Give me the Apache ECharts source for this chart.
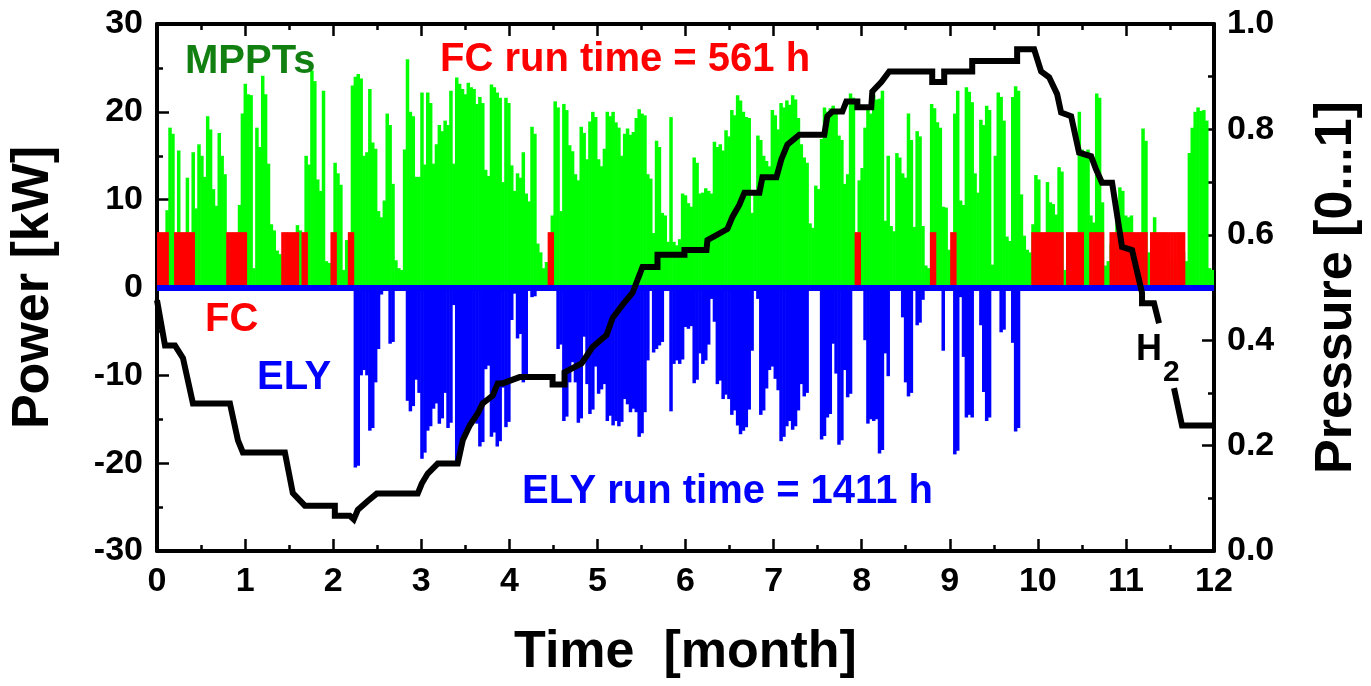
<!DOCTYPE html>
<html>
<head>
<meta charset="utf-8">
<title>Power and hydrogen pressure over one year</title>
<script src="https://cdn.jsdelivr.net/npm/echarts@6/dist/echarts.min.js"></script>
<style>
  html, body { margin: 0; padding: 0; background: #fff; }
  #chart { width: 1371px; height: 686px; }
</style>
</head>
<body>
<div id="chart"></div>
<script>
// Daily peak power of the PV trackers (kW), day 0 .. 364
const mpptPower = [
  3, 4, 5, 8.8, 18.2, 17.5, 4, 15.6, 6, 5,
  12.5, 4, 15.4, 9, 16.3, 15, 12.6, 19.5, 18, 11.2,
  9.3, 17.6, 15, 12.9, 4, 3, 5, 6, 9.4, 19.8,
  23.2, 22, 21.9, 2.2, 18.2, 16, 24.1, 22, 14.1, 7.2,
  6.5, 4.2, 3.8, 2, 3, 1, 2, 3, 7.1, 6.5,
  5, 15, 14, 24.7, 23.5, 12.3, 11, 22.4, 3.0, 2.8,
  2, 14.2, 13, 11.7, 2, 5.4, 5, 23, 24, 24.3,
  23.8, 15, 15.4, 22.6, 16.5, 15.8, 8.7, 8, 9.9, 19.8,
  18.5, 11.8, 3.1, 2.2, 2, 15.7, 26, 20, 19.5, 12.6,
  12.6, 22.2, 14, 22.2, 21, 14.1, 16.3, 18.5, 17.8, 19,
  18.5, 22.4, 14.1, 23.9, 23.2, 22.6, 22, 23.3, 22.8, 22.6,
  20.9, 21.7, 21, 13.4, 12.7, 23.1, 22.8, 22.2, 21.6, 12,
  21.6, 21, 13.9, 11, 13, 12.5, 15.4, 10.7, 9.8, 18.3,
  17.5, 5, 4, 2.2, 2.9, 2, 8.2, 21.2, 20.5, 8.7,
  20.9, 20.2, 16.2, 15.5, 12.9, 12.2, 18.3, 17.6, 14.6, 18.9,
  20, 19.4, 14.6, 13.8, 15.8, 20, 19.5, 20, 18.8, 18.2,
  15, 17.5, 18.1, 17.4, 17.7, 19.3, 20.3, 19.8, 19.6, 12.9,
  12.4, 6.2, 16.7, 16, 8.5, 8.2, 5.2, 19.4, 5.2, 4.8,
  5.5, 10.7, 10.5, 9.6, 9.2, 14.8, 14.2, 10.7, 10.8, 11.3,
  11, 10.7, 16.6, 16, 16.3, 15.6, 17.9, 17.2, 20.2, 19.6,
  21.9, 21.3, 20, 19.4, 19.3, 8.5, 11, 17.3, 16.8, 15,
  14.4, 13.8, 20.2, 19.6, 18, 21, 20.5, 21.3, 20.8, 21.9,
  21.4, 19.3, 16.3, 14.8, 14.2, 7.3, 6.8, 11.6, 11.2, 16.9,
  20.5, 20, 20.4, 20.7, 20.2, 17.3, 16.8, 11.8, 12.9, 22.1,
  21.6, 2.4, 12.2, 13.6, 18.2, 20.3, 19.8, 21.9, 21.4, 21.5,
  22.4, 7.6, 15, 7, 6.4, 15.3, 14.8, 13, 12.5, 19.8,
  16.8, 6.9, 17.8, 17.2, 7, 2.5, 2.2, 20.9, 20.4, 18.8,
  18.2, 9.2, 9.1, 4.3, 4.3, 19.8, 22.4, 9.9, 9.4, 22.8,
  22.3, 21.1, 13, 10.8, 19.1, 18.5, 20.7, 20.2, 2.6, 15,
  22.2, 21.7, 19, 5.8, 5.3, 21.7, 22.9, 22.4, 10.6, 5.9,
  4.3, 4, 7.2, 12.8, 12.3, 5, 5, 12, 9.7, 9.5,
  8.3, 13.7, 13.2, 2, 5, 4, 3, 5, 20, 15.7,
  15.2, 15.7, 8.2, 7.4, 22.1, 21.6, 9.7, 2.5, 3, 5,
  4, 8.2, 11.4, 11, 8.2, 8, 8.2, 5, 5, 4.6,
  18.1, 16.7, 4, 3.6, 8, 5, 4, 3, 3, 2.5,
  3, 3, 2.8, 3, 4, 3, 15.3, 18.2, 20, 20.5,
  20.1, 20.2, 19, 2.2, 2
];

// Fuel cell output (kW) on the days it runs, day 0 .. 364
const fcPower = [
  6.3, 6.3, 6.3, 6.3, 0, 0, 6.3, 6.3, 6.3, 6.3,
  6.3, 6.3, 6.3, 0, 0, 0, 0, 0, 0, 0,
  0, 0, 0, 0, 6.3, 6.3, 6.3, 6.3, 6.3, 6.3,
  6.3, 0, 0, 0, 0, 0, 0, 0, 0, 0,
  0, 0, 0, 6.3, 6.3, 6.3, 6.3, 6.3, 6.3, 0,
  6.3, 6.3, 0, 0, 0, 0, 0, 0, 0, 0,
  6.3, 6.3, 0, 0, 0, 0, 6.3, 6.3, 0, 0,
  0, 0, 0, 0, 0, 0, 0, 0, 0, 0,
  0, 0, 0, 0, 0, 0, 0, 0, 0, 0,
  0, 0, 0, 0, 0, 0, 0, 0, 0, 0,
  0, 0, 0, 0, 0, 0, 0, 0, 0, 0,
  0, 0, 0, 0, 0, 0, 0, 0, 0, 0,
  0, 0, 0, 0, 0, 0, 0, 0, 0, 0,
  0, 0, 0, 0, 0, 6.3, 6.3, 0, 0, 0,
  0, 0, 0, 0, 0, 0, 0, 0, 0, 0,
  0, 0, 0, 0, 0, 0, 0, 0, 0, 0,
  0, 0, 0, 0, 0, 0, 0, 0, 0, 0,
  0, 0, 0, 0, 0, 0, 0, 0, 0, 0,
  0, 0, 0, 0, 0, 0, 0, 0, 0, 0,
  0, 0, 0, 0, 0, 0, 0, 0, 0, 0,
  0, 0, 0, 0, 0, 0, 0, 0, 0, 0,
  0, 0, 0, 0, 0, 0, 0, 0, 0, 0,
  0, 0, 0, 0, 0, 0, 0, 0, 0, 0,
  0, 0, 0, 0, 0, 0, 0, 0, 0, 0,
  0, 6.3, 6.3, 0, 0, 0, 0, 0, 0, 0,
  0, 0, 0, 0, 0, 0, 0, 0, 0, 0,
  0, 0, 0, 0, 0, 0, 0, 6.3, 6.3, 0,
  0, 0, 0, 0, 6.3, 6.3, 0, 0, 0, 0,
  0, 0, 0, 0, 0, 0, 0, 0, 0, 0,
  0, 0, 0, 0, 0, 0, 0, 0, 0, 0,
  0, 0, 6.3, 6.3, 6.3, 6.3, 6.3, 6.3, 6.3, 6.3,
  6.3, 6.3, 6.3, 0, 6.3, 6.3, 6.3, 6.3, 6.3, 6.3,
  0, 0, 6.3, 6.3, 6.3, 6.3, 6.3, 0, 0, 6.3,
  6.3, 6.3, 6.3, 6.3, 6.3, 6.3, 6.3, 6.3, 6.3, 6.3,
  6.3, 6.3, 0, 6.3, 6.3, 6.3, 6.3, 6.3, 6.3, 6.3,
  6.3, 6.3, 6.3, 6.3, 6.3, 0, 0, 0, 0, 0,
  0, 0, 0, 0, 0
];

// Electrolyser load (kW, drawn downward), day 0 .. 364
const elyPower = [
  0, 0, 0, 0, 0, 0, 0, 0, 0, 0,
  0, 0, 0, 0, 0, 0, 0, 0, 0, 0,
  0, 0, 0, 0, 0, 0, 0, 0, 0, 0,
  0, 0, 0, 0, 0, 0, 0, 0, 0, 0,
  0, 0, 0, 0, 0, 0, 0, 0, 0, 0,
  0, 0, 0, 0, 0, 0, 0, 0, 0, 0,
  0, 0, 0, 0, 0, 0, 0, 0, -20.5, -20.3,
  -10, -9.4, -10, -16.3, -16, -10.8, -7, -0.8, 0, 0,
  -6.4, -6.2, 0, 0, 0, 0, -12.9, -14.1, -13.5, -10.5,
  -12, -19.5, -18.8, -16.3, -15.8, -13.8, -13.2, -15.5, -14.9, -12,
  -16, -15.4, -2, -20.1, -19.4, -17.8, -16.7, -16.2, -15.5, -14.8,
  -15.5, -18.1, -17.6, -9.3, -8.9, -17, -16.5, -18.1, -17.5, -11.4,
  -15.9, -15.3, -3.7, -0.7, -5.8, -5.3, -10.8, -10.2, 0, -1.1,
  -1, 0, 0, 0, 0, 0, 0, 0, -7, -6.5,
  -15.2, -14.7, -10.8, -8.5, -10.8, -15.4, -14.9, -5.6, -11, -14.4,
  -13.9, -9, -12.1, -11.6, -11, -15.2, -14.6, -15.7, -15.2, -15.8,
  -15.3, -12.7, -13.3, -14.2, -13.8, -14.2, -17, -16.6, -14.2, -8.3,
  0, -7.4, -7, -6.6, -6.2, 0, 0, -14.1, -8.7, -8.3,
  -8.7, -8.2, -4.5, -4.7, -4.4, -10.9, -10.5, -7.5, -8.7, -8.3,
  -6.5, -1.3, -3.9, -11, -10.6, -12.7, -12.2, -12.7, -14.5, -14,
  -15.7, -16.7, -16.3, -15.9, -13.9, -7.2, 0, -1.3, -14.5, -14,
  -11.5, -9.4, -9, -10.4, -11.7, -17.5, -17, -15.8, -15.2, -16.2,
  -15.8, -14, -11, -12.4, -12, 0, 0, 0, 0, -17.3,
  -16.9, -14.8, -14.4, -6.4, -9.8, -17.9, -17.4, -9.4, -12.5, -12.1,
  0, 0, 0, 0, -6, -15.5, -15, -15.2, -15, -18.9,
  -18.5, -7.5, -10.1, 0, 0, 0, 0, -3.4, -10.8, -12.4,
  -12, 0, -4.3, -4, -1.4, 0, 0, 0, 0, 0,
  0, -7.2, 0, 0, 0, -19, -18.6, -1.1, -7.9, -14.8,
  -14.5, -14.8, 0, 0, -4.3, -11.9, -15.2, -14.8, 0, 0,
  0, -5.1, -4.8, 0, 0, -6.3, -16.4, -16, 0, 0,
  0, 0, 0, 0, 0, 0, 0, 0, 0, 0,
  0, 0, 0, 0, 0, 0, 0, 0, 0, 0,
  0, 0, 0, 0, 0, 0, 0, 0, 0, 0,
  0, 0, 0, 0, 0, 0, 0, 0, 0, 0,
  0, 0, 0, 0, 0, 0, 0, 0, 0, 0,
  0, 0, 0, 0, 0, 0, 0, 0, 0, 0,
  0, 0, 0, 0, 0
];

// Hydrogen tank pressure: time in months and relative pressure; '-' breaks the line at the label
const h2Months = [
  0.000, 0.091, 0.204, 0.295, 0.408, 0.828, 0.919, 0.975, 1.452, 1.542,
  1.679, 2.019, 2.019, 2.189, 2.234, 2.280, 2.393, 2.495, 2.960, 3.006,
  3.074, 3.187, 3.414, 3.471, 3.550, 3.641, 3.697, 3.811, 3.868, 3.924,
  4.117, 4.491, 4.491, 4.627, 4.627, 4.820, 4.945, 5.104, 5.172, 5.285,
  5.399, 5.512, 5.682, 5.682, 5.988, 5.988, 6.238, 6.249, 6.476, 6.533,
  6.612, 6.669, 6.839, 6.873, 7.032, 7.088, 7.157, 7.293, 7.576, 7.610,
  7.667, 7.781, 7.826, 7.951, 7.951, 8.109, 8.121, 8.223, 8.313, 8.801,
  8.801, 8.937, 8.937, 9.255, 9.255, 9.765, 9.765, 9.958, 10.037, 10.128,
  10.219, 10.264, 10.378, 10.468, 10.605, 10.661, 10.729, 10.843, 10.956, 11.070,
  11.183, 11.183, 11.319, 11.376, 11.460, 11.546, 11.637, 12.000
];
const h2Pressure = [
  0.476, 0.390, 0.390, 0.366, 0.280, 0.280, 0.210, 0.187, 0.187, 0.110,
  0.086, 0.086, 0.067, 0.067, 0.060, 0.078, 0.095, 0.109, 0.109, 0.128,
  0.147, 0.166, 0.166, 0.210, 0.238, 0.261, 0.280, 0.295, 0.318, 0.318,
  0.330, 0.330, 0.316, 0.316, 0.339, 0.356, 0.387, 0.410, 0.442, 0.467,
  0.490, 0.539, 0.539, 0.562, 0.562, 0.571, 0.571, 0.590, 0.611, 0.634,
  0.657, 0.680, 0.680, 0.709, 0.709, 0.743, 0.771, 0.790, 0.790, 0.825,
  0.834, 0.834, 0.853, 0.853, 0.842, 0.842, 0.872, 0.890, 0.910, 0.910,
  0.890, 0.890, 0.910, 0.910, 0.930, 0.930, 0.952, 0.952, 0.910, 0.899,
  0.867, 0.832, 0.825, 0.756, 0.749, 0.724, 0.699, 0.699, 0.577, 0.571,
  0.490, 0.470, 0.470, 0.432, '-', 0.309, 0.238, 0.238
];

const days = mpptPower.map((_, i) => i);
const h2Series = h2Months.map((m, i) => [m, h2Pressure[i]]);

const FONT = '"Liberation Sans", Arial, sans-serif';
const TICK_FONT = 34;
const TITLE_FONT = 52;
const NOTE_FONT = 40;
// Day bars are drawn a little wider than one day so neighbours overlap without seams
const DAY_BAR_WIDTH = 3.5;

const axisLine = { show: true, onZero: false, lineStyle: { color: '#000', width: 4 } };
const majorTick = { show: true, inside: true, length: 12, lineStyle: { color: '#000', width: 2.5 } };
const minorTick = { show: true, splitNumber: 2, length: 6, lineStyle: { color: '#000', width: 2.5 } };
const tickLabel = { color: '#000', fontFamily: FONT, fontWeight: 'bold', fontSize: TICK_FONT };
const titleStyle = { color: '#000', fontFamily: FONT, fontWeight: 'bold', fontSize: TITLE_FONT };

const chart = echarts.init(document.getElementById('chart'), null, { renderer: 'canvas' });

function note(text, x, y, color, size) {
  return {
    type: 'text', x: x, y: y, z: 20,
    style: { text: text, fill: color, font: 'bold ' + size + 'px ' + FONT, verticalAlign: 'middle' }
  };
}

chart.setOption({
  animation: false,
  backgroundColor: '#fff',
  grid: { left: 157, right: 156, top: 24, bottom: 135, containLabel: false },
  xAxis: [
    {
      type: 'value', min: 0, max: 12, interval: 1, position: 'bottom',
      axisLine: axisLine, axisTick: majorTick, minorTick: minorTick,
      splitLine: { show: false },
      axisLabel: Object.assign({ margin: 14 }, tickLabel),
      name: 'Time  [month]', nameLocation: 'middle', nameGap: 76, nameTextStyle: titleStyle
    },
    {
      type: 'value', min: 0, max: 12, interval: 1, position: 'top',
      axisLine: axisLine, axisTick: majorTick, minorTick: minorTick,
      splitLine: { show: false }, axisLabel: { show: false }
    },
    {
      type: 'category', data: days, show: false, boundaryGap: true
    }
  ],
  yAxis: [
    {
      type: 'value', min: -30, max: 30, interval: 10, position: 'left',
      axisLine: axisLine, axisTick: majorTick, minorTick: minorTick,
      splitLine: { show: false },
      axisLabel: Object.assign({ margin: 14 }, tickLabel),
      name: 'Power [kW]', nameLocation: 'middle', nameGap: 97, nameRotate: 90, nameTextStyle: titleStyle
    },
    {
      type: 'value', min: 0, max: 1, interval: 0.2, position: 'right',
      axisLine: axisLine, axisTick: majorTick, minorTick: minorTick,
      splitLine: { show: false },
      axisLabel: Object.assign({ margin: 13, formatter: v => v.toFixed(1) }, tickLabel),
      name: 'Pressure [0...1]', nameLocation: 'middle', nameGap: 97, nameRotate: 90, nameTextStyle: titleStyle
    }
  ],
  series: [
    {
      name: 'MPPTs', type: 'bar', xAxisIndex: 2, yAxisIndex: 0,
      data: mpptPower, barWidth: DAY_BAR_WIDTH, barGap: '-100%',
      itemStyle: { color: '#00ff00' }, z: 2
    },
    {
      name: 'FC', type: 'bar', xAxisIndex: 2, yAxisIndex: 0,
      data: fcPower, barWidth: DAY_BAR_WIDTH, barGap: '-100%',
      itemStyle: { color: '#ff0000' }, z: 3
    },
    {
      name: 'ELY', type: 'bar', xAxisIndex: 2, yAxisIndex: 0,
      data: elyPower, barWidth: DAY_BAR_WIDTH, barGap: '-100%',
      itemStyle: { color: '#0000ff' }, z: 3,
      markLine: {
        silent: true, symbol: ['none', 'none'], label: { show: false },
        lineStyle: { color: '#0000ff', width: 6, type: 'solid' },
        data: [{ yAxis: 0 }]
      }
    },
    {
      name: 'H2', type: 'line', xAxisIndex: 0, yAxisIndex: 1,
      data: h2Series, showSymbol: false, connectNulls: false,
      lineStyle: { color: '#000', width: 6, join: 'miter', miterLimit: 2 }, z: 10
    }
  ],
  graphic: [
    note('MPPTs', 185, 62, '#118011', NOTE_FONT),
    note('FC run time = 561 h', 440, 60, '#ff0000', NOTE_FONT),
    note('FC', 205, 320, '#ff0000', NOTE_FONT),
    note('ELY', 257, 378, '#0000ff', NOTE_FONT),
    note('ELY run time = 1411 h', 522, 492, '#0000ff', NOTE_FONT),
    note('H', 1136, 350, '#000', 36),
    note('2', 1163, 373, '#000', 30)
  ]
});
</script>
</body>
</html>
